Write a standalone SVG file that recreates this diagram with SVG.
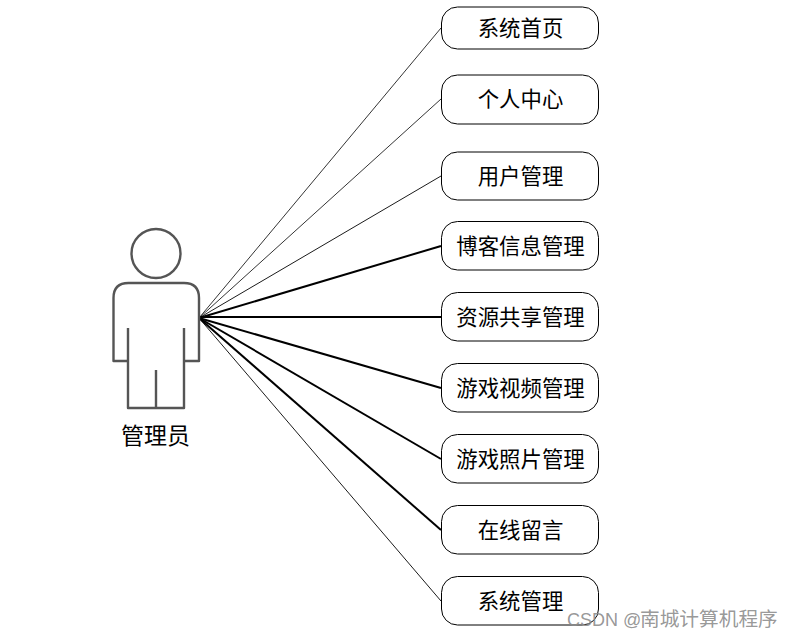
<svg xmlns="http://www.w3.org/2000/svg" width="794" height="639" viewBox="0 0 794 639">
<style>
text{font-family:"Noto Sans CJK SC","Liberation Sans",sans-serif}
.b{fill:#fff;stroke:#000;stroke-width:1}
.t{font-size:21.400px;fill:#000;text-anchor:middle}
.a{fill:none;stroke:#555;stroke-width:2.400;stroke-linejoin:round}
.c{stroke:#000;fill:none}
</style>
<rect width="794" height="639" fill="#fff"/>
<g id="connectors">
<line class="c" stroke-width="0.8" x1="199" y1="318" x2="441" y2="28"/>
<line class="c" stroke-width="0.8" x1="199" y1="318" x2="441" y2="99"/>
<line class="c" stroke-width="0.9" x1="199" y1="318" x2="441" y2="176"/>
<line class="c" stroke-width="2" x1="199" y1="318" x2="441" y2="246"/>
<line class="c" stroke-width="2" x1="199" y1="317" x2="441" y2="317"/>
<line class="c" stroke-width="2" x1="199" y1="318" x2="441" y2="388"/>
<line class="c" stroke-width="2" x1="199" y1="318" x2="441" y2="459"/>
<line class="c" stroke-width="2" x1="199" y1="318" x2="441" y2="530"/>
<line class="c" stroke-width="0.9" x1="199" y1="318" x2="441" y2="601"/>
</g>
<g id="actor">
<circle class="a" cx="156" cy="253.500" r="24.500"/>
<path class="a" d="M128 361H113.500V298Q113.500 283 128.500 283H184Q199 283 199 298V361H184"/>
<path class="a" d="M128 328V408H184V328M156 370V408"/>
<text class="t" style="font-size:23px" x="155.500" y="444">管理员</text>
</g>
<g id="n1"><rect class="b" x="441.500" y="7" width="157" height="42" rx="16"/><text class="t" x="520.500" y="36">系统首页</text></g>
<g id="n2"><rect class="b" x="441.500" y="75" width="157" height="49" rx="16"/><text class="t" x="520.500" y="106.500">个人中心</text></g>
<g id="n3"><rect class="b" x="441.500" y="152" width="157" height="48" rx="16"/><text class="t" x="520.500" y="184">用户管理</text></g>
<g id="n4"><rect class="b" x="441.500" y="221.500" width="157" height="48.500" rx="16"/><text class="t" x="520.500" y="253.500">博客信息管理</text></g>
<g id="n5"><rect class="b" x="441.500" y="292.500" width="157" height="48.500" rx="16"/><text class="t" x="520.500" y="324.500">资源共享管理</text></g>
<g id="n6"><rect class="b" x="441.500" y="363.500" width="157" height="48.500" rx="16"/><text class="t" x="520.500" y="395.500">游戏视频管理</text></g>
<g id="n7"><rect class="b" x="441.500" y="434.500" width="157" height="48.500" rx="16"/><text class="t" x="520.500" y="466.500">游戏照片管理</text></g>
<g id="n8"><rect class="b" x="441.500" y="505.500" width="157" height="48.500" rx="16"/><text class="t" x="520.500" y="537.500">在线留言</text></g>
<g id="n9"><rect class="b" x="441.500" y="576.500" width="157" height="48.500" rx="16"/><text class="t" x="520.500" y="608.500">系统管理</text></g>
<text x="567" y="626" font-size="18" fill="#8c8c8c" fill-opacity="0.9" style="font-family:'Liberation Sans','Noto Sans CJK SC',sans-serif">CSDN @<tspan x="640" font-size="19.700">南城计算机程序</tspan></text>
</svg>
